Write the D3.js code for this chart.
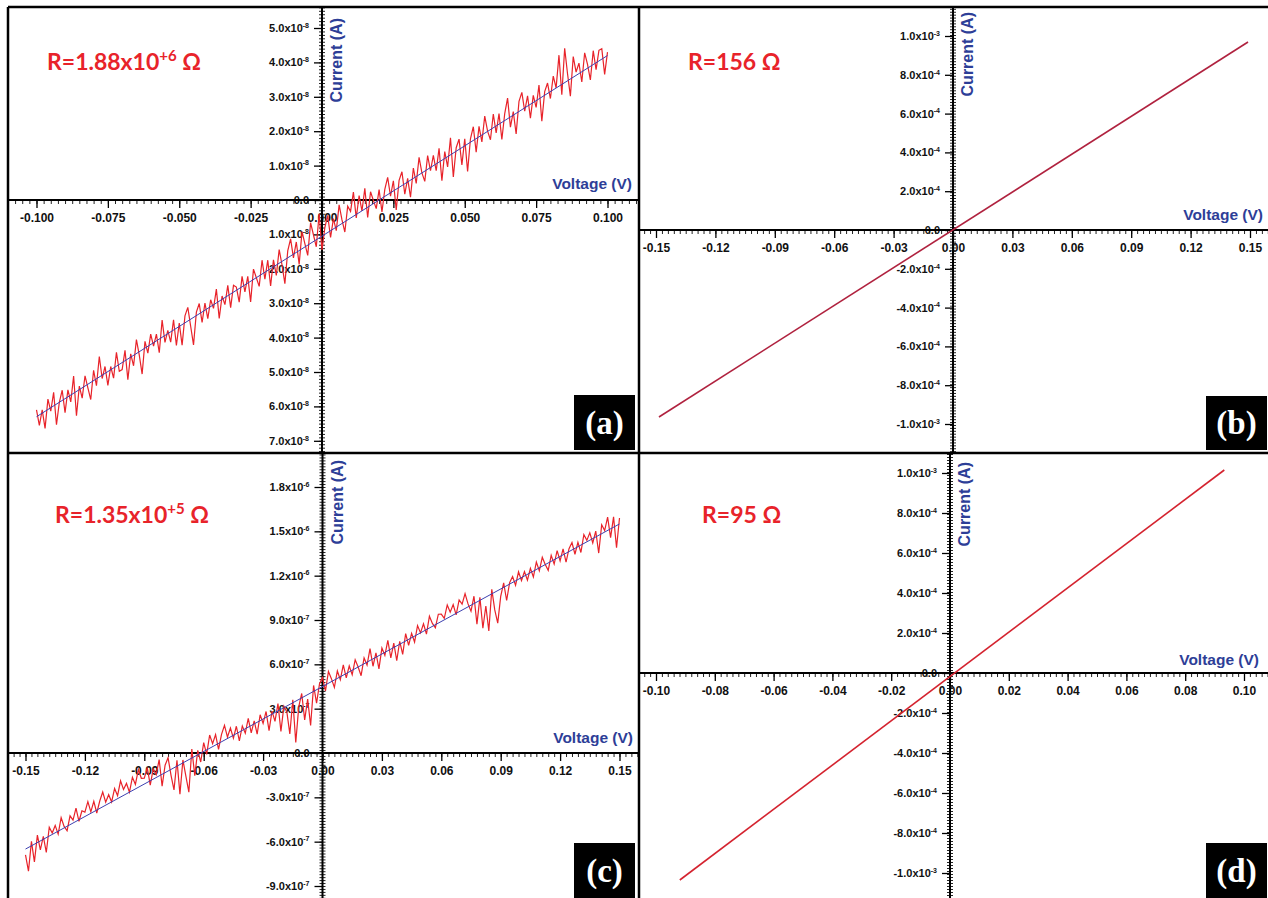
<!DOCTYPE html>
<html lang="en">
<head>
<meta charset="UTF-8" />
<title>I-V curves</title>
<script src="https://d3js.org/d3.v7.min.js"></script>
<style>
  body { margin: 0; background: #fff; }
  svg { display: block; background: #fff; }
  .tick text { font-family: "Liberation Sans", Arial, sans-serif; font-weight: bold; fill: #111; }
  .xmajor .tick text { font-size: 12px; }
  .ymajor .tick text { font-size: 11px; }
  .minor line { stroke: #222; stroke-width: 1; }
  .xmajor line, .ymajor line { stroke: #000; stroke-width: 1.3; }
</style>
</head>
<body>
<svg width="1268" height="898"></svg>
<script>
// ---------- panel (a): voltage in mV, current in 1e-8 A ----------
const aVoltage = [
  -100,-99,-98,-97,-96,-95,-94,-93,-92,-91,
  -90,-89,-88,-87,-86,-85,-84,-83,-82,-81,
  -80,-79,-78,-77,-76,-75,-74,-73,-72,-71,
  -70,-69,-68,-67,-66,-65,-64,-63,-62,-61,
  -60,-59,-58,-57,-56,-55,-54,-53,-52,-51,
  -50,-49,-48,-47,-46,-45,-44,-43,-42,-41,
  -40,-39,-38,-37,-36,-35,-34,-33,-32,-31,
  -30,-29,-28,-27,-26,-25,-24,-23,-22,-21,
  -20,-19,-18,-17,-16,-15,-14,-13,-12,-11,
  -10,-9,-8,-7,-6,-5,-4,-3,-2,-1,
  0,1,2,3,4,5,6,7,8,9,
  10,11,12,13,14,15,16,17,18,19,
  20,21,22,23,24,25,26,27,28,29,
  30,31,32,33,34,35,36,37,38,39,
  40,41,42,43,44,45,46,47,48,49,
  50,51,52,53,54,55,56,57,58,59,
  60,61,62,63,64,65,66,67,68,69,
  70,71,72,73,74,75,76,77,78,79,
  80,81,82,83,84,85,86,87,88,89,
  90,91,92,93,94,95,96,97,98,99,
  100
];
const aCurrent = [
  -6.10,-6.55,-6.10,-6.64,-5.79,-6.14,-5.59,-6.53,-5.88,-5.53,
  -6.18,-5.52,-5.87,-5.12,-6.27,-5.41,-5.76,-5.11,-5.46,-5.80,
  -4.95,-5.40,-4.55,-5.19,-4.84,-5.39,-4.84,-5.18,-4.43,-4.98,
  -4.93,-4.37,-5.22,-4.47,-4.82,-4.06,-4.51,-5.06,-4.11,-4.45,
  -3.90,-4.25,-3.90,-4.44,-3.49,-4.14,-3.79,-4.13,-3.48,-4.23,
  -3.58,-4.22,-3.37,-3.12,-3.67,-4.21,-3.26,-3.01,-3.56,-3.00,
  -3.45,-2.90,-3.15,-2.59,-3.44,-2.79,-3.04,-2.48,-3.13,-2.48,
  -2.53,-2.97,-2.22,-2.67,-2.22,-2.96,-2.01,-2.26,-2.51,-1.75,
  -2.30,-1.75,-2.50,-1.74,-2.19,-1.44,-1.89,-2.43,-1.48,-1.13,
  -1.68,-1.22,-1.87,-0.92,-1.27,-1.61,-0.66,-1.01,-1.36,-0.40,
  -1.45,-0.80,-0.45,-1.09,-0.54,-0.89,-0.14,-0.58,-0.93,-0.18,
  -0.33,0.23,-0.52,0.13,-0.32,0.34,-0.51,0.24,-0.01,-0.25,
  0.30,-0.35,0.31,0.66,0.11,0.56,-0.29,0.57,0.82,0.17,
  0.63,0.08,0.93,0.48,1.24,0.79,0.54,1.29,0.85,1.30,
  0.85,1.50,0.56,1.41,0.96,1.81,0.67,1.52,1.77,1.02,
  1.78,0.83,1.78,2.13,1.39,2.14,1.69,2.44,2.00,1.75,
  2.50,1.95,2.51,1.76,2.51,2.96,2.12,2.57,1.92,2.87,
  3.13,2.58,3.03,2.38,3.04,2.69,3.34,2.29,3.15,3.40,
  2.95,3.60,3.26,4.21,3.06,4.41,3.67,3.02,4.17,3.72,
  3.98,3.43,4.28,3.94,3.49,4.34,3.79,4.35,4.40,3.65,
  4.30
];
const aFitVoltage = [-100, 100];
const aFitCurrent = [-6.3, 4.2];
const aXTicks = [-100, -75, -50, -25, 0, 25, 50, 75, 100];
const aXLabels = ["-0.100", "-0.075", "-0.050", "-0.025", "0.000", "0.025", "0.050", "0.075", "0.100"];
const aYTicks = [5, 4, 3, 2, 1, 0, -1, -2, -3, -4, -5, -6, -7];
const aYLabels = ["5.0x10^-8", "4.0x10^-8", "3.0x10^-8", "2.0x10^-8", "1.0x10^-8", "0.0",
  "1.0x10^-8", "2.0x10^-8", "3.0x10^-8", "4.0x10^-8", "5.0x10^-8", "6.0x10^-8", "7.0x10^-8"];

// ---------- panel (b): voltage in V, current in 1e-4 A ----------
const bVoltage = [-0.1485, 0.149];
const bCurrent = [-9.64, 9.69];
const bXTicks = [-0.15, -0.12, -0.09, -0.06, -0.03, 0, 0.03, 0.06, 0.09, 0.12, 0.15];
const bXLabels = ["-0.15", "-0.12", "-0.09", "-0.06", "-0.03", "0.00", "0.03", "0.06", "0.09", "0.12", "0.15"];
const bYTicks = [10, 8, 6, 4, 2, 0, -2, -4, -6, -8, -10];
const bYLabels = ["1.0x10^-3", "8.0x10^-4", "6.0x10^-4", "4.0x10^-4", "2.0x10^-4", "0.0",
  "-2.0x10^-4", "-4.0x10^-4", "-6.0x10^-4", "-8.0x10^-4", "-1.0x10^-3"];

// ---------- panel (c): voltage in mV, current in 1e-7 A ----------
const cVoltage = [
  -150,-148.5,-147,-145.5,-144,-142.5,-141,-139.5,-138,-136.5,
  -135,-133.5,-132,-130.5,-129,-127.5,-126,-124.5,-123,-121.5,
  -120,-118.5,-117,-115.5,-114,-112.5,-111,-109.5,-108,-106.5,
  -105,-103.5,-102,-100.5,-99,-97.5,-96,-94.5,-93,-91.5,
  -90,-88.5,-87,-85.5,-84,-82.5,-81,-79.5,-78,-76.5,
  -75,-73.5,-72,-70.5,-69,-67.5,-66,-64.5,-63,-61.5,
  -60,-58.5,-57,-55.5,-54,-52.5,-51,-49.5,-48,-46.5,
  -45,-43.5,-42,-40.5,-39,-37.5,-36,-34.5,-33,-31.5,
  -30,-28.5,-27,-25.5,-24,-22.5,-21,-19.5,-18,-16.5,
  -15,-13.5,-12,-10.5,-9,-7.5,-6,-4.5,-3,-1.5,
  0,1.5,3,4.5,6,7.5,9,10.5,12,13.5,
  15,16.5,18,19.5,21,22.5,24,25.5,27,28.5,
  30,31.5,33,34.5,36,37.5,39,40.5,42,43.5,
  45,46.5,48,49.5,51,52.5,54,55.5,57,58.5,
  60,61.5,63,64.5,66,67.5,69,70.5,72,73.5,
  75,76.5,78,79.5,81,82.5,84,85.5,87,88.5,
  90,91.5,93,94.5,96,97.5,99,100.5,102,103.5,
  105,106.5,108,109.5,111,112.5,114,115.5,117,118.5,
  120,121.5,123,124.5,126,127.5,129,130.5,132,133.5,
  135,136.5,138,139.5,141,142.5,144,145.5,147,148.5,
  150
];
const cCurrent = [
  -6.90,-7.99,-5.98,-7.37,-5.56,-6.55,-5.64,-6.73,-5.02,-5.41,
  -4.90,-5.49,-4.38,-4.97,-5.26,-4.25,-4.54,-3.73,-4.62,-3.91,
  -4.00,-3.29,-3.98,-3.27,-4.06,-3.25,-2.64,-3.33,-2.82,-3.31,
  -2.40,-2.89,-1.88,-2.47,-2.06,-2.65,-1.64,-2.13,-1.12,-1.71,
  -1.70,-0.99,-2.18,-1.07,-1.46,-0.45,-2.24,-0.83,-0.32,-1.51,
  -2.50,-0.49,-2.78,-0.47,-1.56,-2.65,0.26,-1.53,0.18,-0.61,
  0.70,-0.09,1.22,0.63,1.24,0.25,1.26,1.87,1.08,1.69,
  1.00,1.81,0.82,1.83,1.34,2.35,1.36,2.17,1.28,2.59,
  2.00,2.81,1.52,2.83,2.14,3.35,1.46,3.17,2.78,1.29,
  3.60,0.71,3.12,4.03,2.24,3.65,1.86,4.57,3.38,4.69,
  5.10,4.21,5.52,5.03,4.44,5.55,4.96,5.97,5.08,5.89,
  5.30,6.31,5.82,5.23,6.44,5.95,7.06,5.87,6.78,5.69,
  7.10,6.61,7.62,6.43,7.44,6.25,7.56,6.67,8.08,7.29,
  8.10,7.51,8.62,8.13,8.74,8.05,9.26,8.77,8.48,9.39,
  9.40,9.11,10.02,9.53,10.04,9.35,10.36,10.07,10.78,10.09,
  9.60,10.61,8.72,10.53,8.44,9.95,8.26,11.07,9.68,8.79,
  10.60,11.51,10.32,11.53,11.94,11.35,12.26,11.67,12.28,11.69,
  12.50,11.91,12.92,12.33,13.24,12.75,12.36,13.37,12.78,13.69,
  13.00,13.81,12.92,13.83,14.24,13.45,14.26,13.57,14.78,14.39,
  14.90,14.21,15.02,13.53,15.44,15.05,15.96,14.57,15.98,13.89,
  15.90
];
const cFitVoltage = [-150, 150];
const cFitCurrent = [-6.5, 15.5];
const cXTicks = [-150, -120, -90, -60, -30, 0, 30, 60, 90, 120, 150];
const cXLabels = ["-0.15", "-0.12", "-0.09", "-0.06", "-0.03", "0.00", "0.03", "0.06", "0.09", "0.12", "0.15"];
const cYTicks = [18, 15, 12, 9, 6, 3, 0, -3, -6, -9];
const cYLabels = ["1.8x10^-6", "1.5x10^-6", "1.2x10^-6", "9.0x10^-7", "6.0x10^-7", "3.0x10^-7", "0.0",
  "-3.0x10^-7", "-6.0x10^-7", "-9.0x10^-7"];

// ---------- panel (d): voltage in V, current in 1e-4 A ----------
const dVoltage = [-0.0919, 0.0933];
const dCurrent = [-10.35, 10.15];
const dXTicks = [-0.10, -0.08, -0.06, -0.04, -0.02, 0, 0.02, 0.04, 0.06, 0.08, 0.10];
const dXLabels = ["-0.10", "-0.08", "-0.06", "-0.04", "-0.02", "0.00", "0.02", "0.04", "0.06", "0.08", "0.10"];
const dYTicks = bYTicks;
const dYLabels = bYLabels;

const resistanceLabels = [["R=1.88x10", "+6", " Ω"], ["R=156 Ω"], ["R=1.35x10", "+5", " Ω"], ["R=95 Ω"]];
const panelTags = ["(a)", "(b)", "(c)", "(d)"];

const RED = "#e8232a";
const BLUE = "#2d3e97";
const FITBLUE = "#3d40b0";

const svg = d3.select("svg");

const panels = [
  { id: "a", frame: { x0: 8, x1: 639, y0: 7, y1: 453 },
    xDomain: [-100, 100], xRange: [36.5, 607.5], yDomain: [-7, 5], yRange: [440.8, 28],
    xMinor: 2.5, yMinor: 0.1,
    v: aVoltage, i: aCurrent, color: RED, width: 1.2, fitV: aFitVoltage, fitI: aFitCurrent,
    xTicks: aXTicks, xLabels: aXLabels, yTicks: aYTicks, yLabels: aYLabels,
    rPos: [47, 70], curPos: [18], voltPos: [632, 189], box: [574, 395, 61, 55] },
  { id: "b", frame: { x0: 639, x1: 1268, y0: 7, y1: 453 },
    xDomain: [-0.15, 0.15], xRange: [656, 1250], yDomain: [-10, 10], yRange: [424, 36],
    xMinor: 0.003, yMinor: 0.15,
    v: bVoltage, i: bCurrent, color: "#b0223f", width: 1.6,
    xTicks: bXTicks, xLabels: bXLabels, yTicks: bYTicks, yLabels: bYLabels,
    rPos: [688, 70], curPos: [12], voltPos: [1263, 220], box: [1206, 396, 61, 54] },
  { id: "c", frame: { x0: 8, x1: 639, y0: 453, y1: 898 },
    xDomain: [-150, 150], xRange: [25.5, 619.5], yDomain: [-9, 18], yRange: [886, 487],
    xMinor: 3, yMinor: 0.2,
    v: cVoltage, i: cCurrent, color: RED, width: 1.2, fitV: cFitVoltage, fitI: cFitCurrent,
    xTicks: cXTicks, xLabels: cXLabels, yTicks: cYTicks, yLabels: cYLabels,
    rPos: [55, 523], curPos: [460], voltPos: [633, 743], box: [574, 843, 61, 55] },
  { id: "d", frame: { x0: 639, x1: 1268, y0: 453, y1: 898 },
    xDomain: [-0.1, 0.1], xRange: [656, 1244], yDomain: [-10, 10], yRange: [873, 473],
    xMinor: 0.002, yMinor: 0.15,
    v: dVoltage, i: dCurrent, color: "#d4232f", width: 1.6,
    xTicks: dXTicks, xLabels: dXLabels, yTicks: dYTicks, yLabels: dYLabels,
    rPos: [702, 523], curPos: [462], voltPos: [1259, 665], box: [1206, 843, 61, 55] }
];

function minorValues(scale, f0, f1, step) {
  const lo = Math.ceil(Math.min(scale.invert(f0), scale.invert(f1)) / step);
  const hi = Math.floor(Math.max(scale.invert(f0), scale.invert(f1)) / step);
  return d3.range(lo, hi + 1).map(k => k * step);
}

panels.forEach((p, idx) => {
  const f = p.frame;
  const g = svg.append("g").attr("class", "panel-" + p.id);
  const x = d3.scaleLinear().domain(p.xDomain).range(p.xRange);
  const y = d3.scaleLinear().domain(p.yDomain).range(p.yRange);
  const ox = x(0), oy = y(0);

  g.append("defs").append("clipPath").attr("id", "clip-" + p.id)
    .append("rect")
    .attr("x", f.x0).attr("y", f.y0)
    .attr("width", f.x1 - f.x0).attr("height", f.y1 - f.y0);

  // x axis: minor + major ticks
  g.append("g").attr("class", "minor")
    .attr("transform", `translate(0,${oy})`)
    .call(d3.axisBottom(x).tickValues(minorValues(x, f.x0, f.x1, p.xMinor)).tickSize(4).tickFormat(""))
    .call(s => s.select(".domain").remove());

  g.append("g").attr("class", "xmajor")
    .attr("transform", `translate(0,${oy})`)
    .call(d3.axisBottom(x).tickValues(p.xTicks).tickSize(8).tickPadding(5)
      .tickFormat(d => p.xLabels[p.xTicks.indexOf(d)]))
    .call(s => s.select(".domain").remove());

  // y axis: minor ticks both sides + major ticks with labels
  const ym = minorValues(y, f.y0, f.y1, p.yMinor);
  g.append("g").attr("class", "minor")
    .attr("transform", `translate(${ox},0)`)
    .call(d3.axisLeft(y).tickValues(ym).tickSize(3).tickFormat(""))
    .call(s => s.select(".domain").remove());
  g.append("g").attr("class", "minor")
    .attr("transform", `translate(${ox},0)`)
    .call(d3.axisRight(y).tickValues(ym).tickSize(3).tickFormat(""))
    .call(s => s.select(".domain").remove());

  const yAx = g.append("g").attr("class", "ymajor")
    .attr("transform", `translate(${ox},0)`)
    .call(d3.axisLeft(y).tickValues(p.yTicks).tickSize(8).tickPadding(5).tickFormat(""))
    .call(s => s.select(".domain").remove());
  yAx.selectAll(".tick text").each(function (d) {
    const parts = p.yLabels[p.yTicks.indexOf(d)].split("^");
    const t = d3.select(this).text(parts[0]);
    if (parts[1]) {
      t.append("tspan").attr("dy", "-0.6em").style("font-size", "7px").text(parts[1]);
    }
  });

  // axis lines
  g.append("line").attr("x1", f.x0).attr("x2", f.x1).attr("y1", oy).attr("y2", oy)
    .attr("stroke", "#000").attr("stroke-width", 2);
  g.append("line").attr("x1", ox).attr("x2", ox).attr("y1", f.y0).attr("y2", f.y1)
    .attr("stroke", "#000").attr("stroke-width", 2);

  // measured curve and fit
  const line = d3.line().x(d => x(d[0])).y(d => y(d[1]));
  g.append("path")
    .datum(d3.zip(p.v, p.i))
    .attr("clip-path", `url(#clip-${p.id})`)
    .attr("d", line)
    .attr("fill", "none")
    .attr("stroke", p.color)
    .attr("stroke-width", p.width);
  if (p.fitV) {
    g.append("path")
      .datum(d3.zip(p.fitV, p.fitI))
      .attr("d", line)
      .attr("fill", "none")
      .attr("stroke", FITBLUE)
      .attr("stroke-width", 1);
  }

  // axis titles
  g.append("text")
    .attr("transform", `translate(${ox + 20},${p.curPos[0]}) rotate(-90)`)
    .attr("text-anchor", "end")
    .attr("font-family", "'Liberation Sans', Arial, sans-serif")
    .attr("font-weight", "bold")
    .attr("font-size", 16)
    .attr("fill", BLUE)
    .text("Current (A)");
  g.append("text")
    .attr("x", p.voltPos[0]).attr("y", p.voltPos[1])
    .attr("text-anchor", "end")
    .attr("font-family", "'Liberation Sans', Arial, sans-serif")
    .attr("font-weight", "bold")
    .attr("font-size", 15.5)
    .attr("fill", BLUE)
    .text("Voltage (V)");

  // resistance annotation
  const lab = resistanceLabels[idx];
  const r = g.append("text")
    .attr("x", p.rPos[0]).attr("y", p.rPos[1])
    .attr("font-family", "Lato, 'Open Sans', sans-serif")
    .attr("font-weight", "bold")
    .attr("font-size", 23)
    .attr("fill", RED);
  r.append("tspan").text(lab[0]);
  if (lab.length > 1) {
    r.append("tspan").attr("dy", -9).attr("font-size", 15).text(lab[1]);
    r.append("tspan").attr("dy", 9).text(lab[2]);
  }

  // panel tag
  const b = p.box;
  g.append("rect").attr("x", b[0]).attr("y", b[1]).attr("width", b[2]).attr("height", b[3]).attr("fill", "#000");
  g.append("text")
    .attr("x", b[0] + b[2] / 2).attr("y", b[1] + b[3] / 2 + 11)
    .attr("text-anchor", "middle")
    .attr("font-family", "'Liberation Serif', 'Times New Roman', serif")
    .attr("font-weight", "bold")
    .attr("font-size", 33)
    .attr("fill", "#fff")
    .text(panelTags[idx]);
});

// frame lines between and around the panels
const frameLines = [[8, 7, 1268, 7], [8, 7, 8, 898], [639, 7, 639, 898], [8, 453, 1268, 453]];
svg.append("g").selectAll("line").data(frameLines).join("line")
  .attr("x1", d => d[0]).attr("y1", d => d[1]).attr("x2", d => d[2]).attr("y2", d => d[3])
  .attr("stroke", "#000").attr("stroke-width", 2.5);
</script>
</body>
</html>
